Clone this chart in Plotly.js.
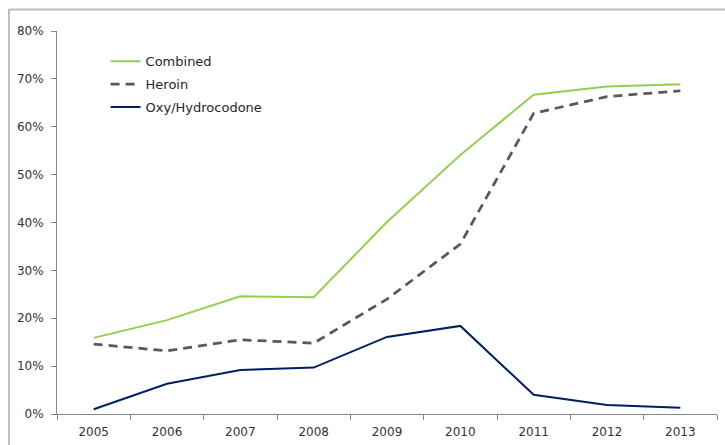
<!DOCTYPE html>
<html>
<head>
<meta charset="utf-8">
<script src="https://cdn.plot.ly/plotly-3.0.1.min.js"></script>
<style>
html,body{margin:0;padding:0;background:#fff;}
#chart{width:725px;height:445px;}
</style>
</head>
<body>
<div id="chart"></div>
<script>
const years = ['2005','2006','2007','2008','2009','2010','2011','2012','2013'];
const combined = [0.159, 0.196, 0.246, 0.244, 0.401, 0.541, 0.667, 0.684, 0.689];
const heroin = [0.146, 0.132, 0.155, 0.148, 0.240, 0.355, 0.628, 0.663, 0.675];
const oxy = [0.010, 0.063, 0.092, 0.097, 0.161, 0.184, 0.040, 0.019, 0.013];

const traces = [
  {x: years, y: combined, name: 'Combined', type: 'scatter', mode: 'lines', legendgroup: 'a',
   line: {color: '#92D050', width: 2}},
  {x: years, y: heroin, name: 'Heroin', type: 'scatter', mode: 'lines', legendgroup: 'b',
   line: {color: '#595959', width: 2.75, dash: '9px,6px'}},
  {x: years, y: oxy, name: 'Oxy/Hydrocodone', type: 'scatter', mode: 'lines', legendgroup: 'c',
   line: {color: '#002060', width: 2}}
];

const L = 57, R = 717, T = 31, B = 414;
const pw = R - L, ph = B - T;

const layout = {
  width: 725, height: 445,
  margin: {l: L, r: 725 - R, t: T, b: 445 - B, pad: 0},
  paper_bgcolor: '#ffffff', plot_bgcolor: '#ffffff',
  font: {family: 'DejaVu Sans, sans-serif', size: 12, color: '#333333'},
  showlegend: true,
  legend: {
    x: 0.0736, y: 0.96, xanchor: 'left', yanchor: 'top',
    bgcolor: 'rgba(0,0,0,0)', itemwidth: 30, tracegroupgap: 3, traceorder: 'grouped',
    font: {family: 'DejaVu Sans, sans-serif', size: 13, color: '#262626'}
  },
  xaxis: {
    type: 'category', range: [-0.5, 8.5],
    showline: true, linecolor: '#868686', linewidth: 1,
    ticks: 'outside', tickson: 'boundaries', ticklen: 5, tickcolor: '#868686',
    ticklabelstandoff: 7,
    showgrid: false, zeroline: false,
    tickfont: {size: 12, color: '#333333'}
  },
  yaxis: {
    range: [0, 0.8], dtick: 0.1, tick0: 0, tickformat: '.0%',
    showline: true, linecolor: '#868686', linewidth: 1,
    ticks: 'outside', ticklen: 5, tickcolor: '#868686',
    ticklabelstandoff: 5,
    showgrid: false, zeroline: false,
    tickfont: {size: 12, color: '#333333'}
  },
  shapes: [
    {type: 'line', xref: 'paper', yref: 'paper',
     x0: (9 - L) / pw, x1: (9 - L) / pw, y0: (B - 9) / ph, y1: (B - 460) / ph,
     line: {color: '#bfbfbf', width: 2}},
    {type: 'line', xref: 'paper', yref: 'paper',
     x0: (9 - L) / pw, x1: (740 - L) / pw, y0: (B - 9.5) / ph, y1: (B - 9.5) / ph,
     line: {color: '#bfbfbf', width: 2}}
  ]
};

Plotly.newPlot('chart', traces, layout, {displayModeBar: false, staticPlot: true});
</script>
</body>
</html>
